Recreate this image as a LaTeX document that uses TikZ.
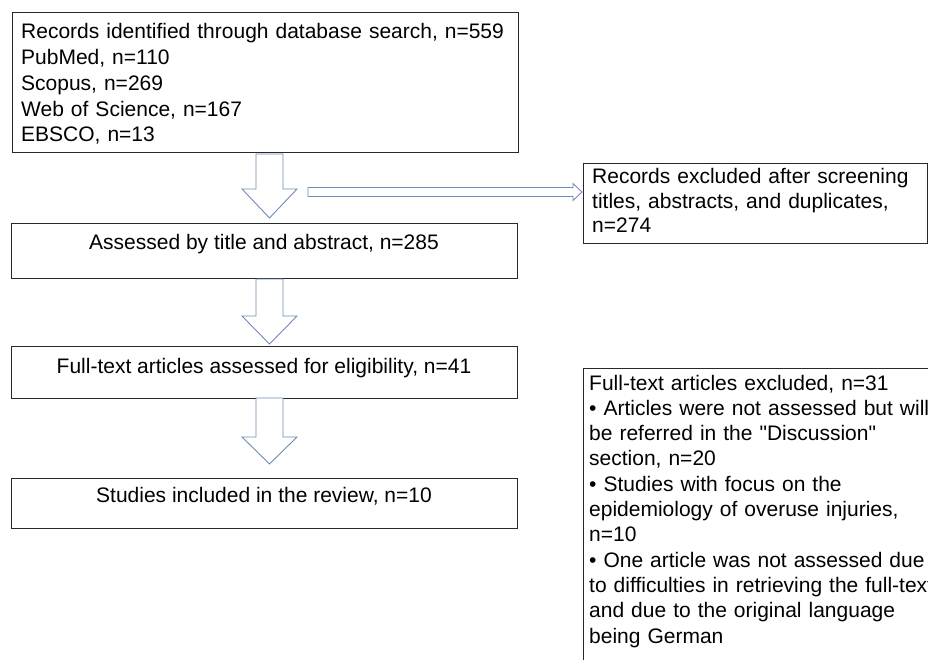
\documentclass[tikz,border=0pt]{standalone}
\usepackage{fontspec}
\setmainfont{Liberation Sans}[Ligatures=TeXOff]
\definecolor{boxc}{RGB}{40,40,40}
\definecolor{arrc}{RGB}{110,140,180}
\newcommand{\vblockarrow}[4]{%
  \draw[blockarrow] (#1-13.5,#2) -- (#1+13.5,#2) -- (#1+13.5,#3) -- (#1+27.5,#3) -- (#1,#4) -- (#1-27.5,#3) -- (#1-13.5,#3) -- cycle;}
\newcommand{\hblockarrow}[2]{%
  \draw[blockarrow] (308,#1-4.5) -- (573,#1-4.5) -- (573,#1-8.5) -- (582,#1) -- (573,#1+8.5) -- (573,#1+4.5) -- (308,#1+4.5) -- cycle;}
\begin{document}
\begin{tikzpicture}[x=1pt,y=-1pt,
  box/.style={draw=boxc, line width=1.3pt, rectangle, inner sep=0pt, anchor=north west},
  txt/.style={inner sep=0pt, font=\fontsize{21}{25.3}\selectfont, text width=520pt, align=left, anchor=base west},
  ctxt/.style={inner sep=0pt, font=\fontsize{21}{25.3}\selectfont, anchor=base},
  blockarrow/.style={draw=arrc, line width=0.9pt, fill=white, line join=miter}]
\useasboundingbox (0,0) rectangle (928,660);
\clip (0,0) rectangle (928,660);
\fill[white] (0,0) rectangle (928,660);
% boxes
\node[box, minimum width=506pt, minimum height=140pt] (b1) at (12,12) {};
\node[box, minimum width=506pt, minimum height=55pt] (b2) at (11,223) {};
\node[box, minimum width=506pt, minimum height=52pt] (b3) at (11,346) {};
\node[box, minimum width=506pt, minimum height=50pt] (b4) at (11,478) {};
\node[box, minimum width=344pt, minimum height=80pt] (r1) at (583,163) {};
\node[box, minimum width=380pt, minimum height=330pt] (r2) at (583,368) {};
% texts
\node[txt, font=\fontsize{21}{25.7}\selectfont] (t1) at (21,39) {Records identified through database search, n=559\\PubMed, n=110\\Scopus, n=269\\Web of Science, n=167\\EBSCO, n=13};
\node[ctxt] (t2) at (264,250) {Assessed by title and abstract, n=285};
\node[ctxt] (t3) at (264,373) {Full-text articles assessed for eligibility, n=41};
\node[ctxt] (t4) at (264,502) {Studies included in the review, n=10};
\node[txt, font=\fontsize{21}{24.5}\selectfont] (tr1) at (592,184) {Records excluded after screening\\titles, abstracts, and duplicates,\\n=274};
\node[txt] (tr2) at (589,390) {Full-text articles excluded, n=31\\• Articles were not assessed but will\\be referred in the "Discussion"\\section, n=20\\• Studies with focus on the\\epidemiology of overuse injuries,\\n=10\\• One article was not assessed due\\to difficulties in retrieving the full-text\\and due to the original language\\being German};
% block arrows
\vblockarrow{269.5}{154}{189}{218}
\vblockarrow{269.5}{279}{316}{344}
\vblockarrow{269.5}{398}{437}{464}
\hblockarrow{192}
\hblockarrow{441}
\end{tikzpicture}
\end{document}
